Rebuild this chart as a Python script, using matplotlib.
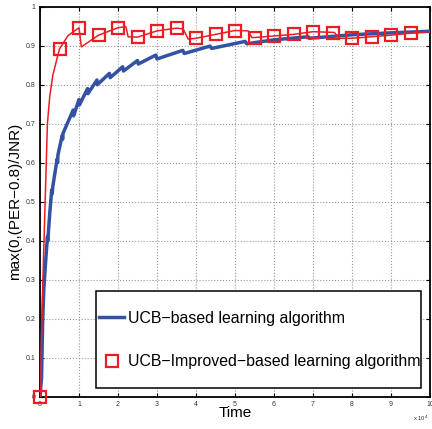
import matplotlib
matplotlib.use("Agg")
import matplotlib.pyplot as plt
from matplotlib.patches import Rectangle

plt.rcParams['font.family'] = ['Liberation Sans', 'DejaVu Sans']

# UCB-based learning curve (time in units of 1e4)
ucb_t = [0, 0.04, 0.07, 0.1, 0.14, 0.19, 0.2, 0.25, 0.3, 0.31, 0.33, 0.44, 0.45,
         0.46, 0.57, 0.58, 0.59, 0.72, 0.85, 0.86, 1.0, 1.01, 1.22, 1.23,
         1.46, 1.47, 1.78, 1.8, 2.12, 2.14, 2.5, 2.52, 2.97, 3.0, 3.66, 3.7,
         4.36, 4.4, 5.26, 5.3, 6.0, 6.88, 6.9, 8.0, 9.0, 10.0]
ucb_v = [0, 0.05, 0.2, 0.28, 0.34, 0.41, 0.40, 0.47, 0.53, 0.52, 0.54, 0.61, 0.60,
         0.62, 0.67, 0.66, 0.675, 0.705, 0.735, 0.72, 0.762, 0.748, 0.79, 0.777,
         0.812, 0.80, 0.829, 0.818, 0.846, 0.835, 0.862, 0.853, 0.876, 0.866, 0.888, 0.88,
         0.899, 0.893, 0.911, 0.905, 0.915, 0.923, 0.919, 0.928, 0.933, 0.937]

# UCB-Improved learning curve
imp_t = [0, 0.02, 0.03, 0.077, 0.19, 0.25, 0.33, 0.5, 0.72, 1.0, 1.06, 1.5, 2.0,
         2.2, 2.26, 2.5, 3.0, 3.5, 3.67, 3.8, 4.0, 4.5, 5.0, 5.34, 5.43, 5.5,
         6.0, 6.5, 7.0, 7.55, 7.67, 8.0, 8.5, 9.0, 9.5, 10.0]
imp_v = [0, 0.0, 0.115, 0.31, 0.70, 0.77, 0.825, 0.892, 0.926, 0.946, 0.897, 0.927, 0.946,
         0.949, 0.923, 0.922, 0.938, 0.945, 0.943, 0.917, 0.919, 0.929, 0.939, 0.938, 0.921, 0.921,
         0.925, 0.929, 0.936, 0.934, 0.919, 0.919, 0.923, 0.927, 0.932, 0.936]

# sampled points shown with square markers
mark_t = [0, 0.5, 1.0, 1.5, 2.0, 2.5, 3.0, 3.5, 4.0, 4.5, 5.0, 5.5, 6.0, 6.5,
          7.0, 7.5, 8.0, 8.5, 9.0, 9.5]
mark_v = [0, 0.892, 0.946, 0.927, 0.946, 0.922, 0.938, 0.945, 0.919, 0.929, 0.937, 0.921,
          0.925, 0.929, 0.936, 0.933, 0.919, 0.923, 0.927, 0.932]

x_ticks = list(range(0, 11))
y_ticks = [0, 0.1, 0.2, 0.3, 0.4, 0.5, 0.6, 0.7, 0.8, 0.9, 1]
y_ticklabels = ['0', '0.1', '0.2', '0.3', '0.4', '0.5', '0.6', '0.7', '0.8', '0.9', '1']

blue = '#3452A4'
red = '#ED1C24'

fig = plt.figure(figsize=(4.32, 4.29), dpi=100)
ax = fig.add_axes([40 / 432, 1 - 396.7 / 429, 390 / 432, 390 / 429])

ax.plot(ucb_t, ucb_v, color=blue, lw=2.5, label='UCB\u2212based learning algorithm', zorder=3)
ax.plot(imp_t, imp_v, color=red, lw=1.1, zorder=4)
ax.plot(mark_t, mark_v, ls='none', marker='s', ms=8.5, mfc='none', mec=red, mew=1.6,
        label='UCB\u2212Improved\u2212based learning algorithm', zorder=5, clip_on=False)

ax.set_xlim(0, 10)
ax.set_ylim(0, 1)
ax.set_xticks(x_ticks)
ax.set_yticks(y_ticks)
ax.set_yticklabels(y_ticklabels)
ax.grid(True, ls=':', color='#999999', lw=0.8)
ax.tick_params(direction='in', length=3, width=0.8, labelsize=5, pad=3,
               top=True, right=True, colors='black', labelcolor='#333333')
for s in ax.spines.values():
    s.set_linewidth(1.3)

ax.set_xlabel('Time', fontsize=11, labelpad=-1)
ax.set_ylabel('max(0,(PER\u22120.8)/JNR)', fontsize=11, labelpad=3)
fig.text(413 / 432, 1 - 421 / 429, r'x 10$^4$', fontsize=4.2, color='#333333')

# legend box
box = Rectangle(((96 - 40) / 390, (396.7 - 388) / 390), (421 - 96) / 390, (388 - 291) / 390,
                transform=ax.transAxes, facecolor='white', edgecolor='black', lw=1.1, zorder=6)
ax.add_patch(box)
leg = ax.legend(loc='center left', bbox_to_anchor=((99 - 40) / 390, (396.7 - 340) / 390),
                frameon=False, fontsize=11.4, labelspacing=1.8, handlelength=1.6,
                handletextpad=0.2, borderpad=0, borderaxespad=0)
leg.set_zorder(7)

fig.savefig('out.png', dpi=100)
